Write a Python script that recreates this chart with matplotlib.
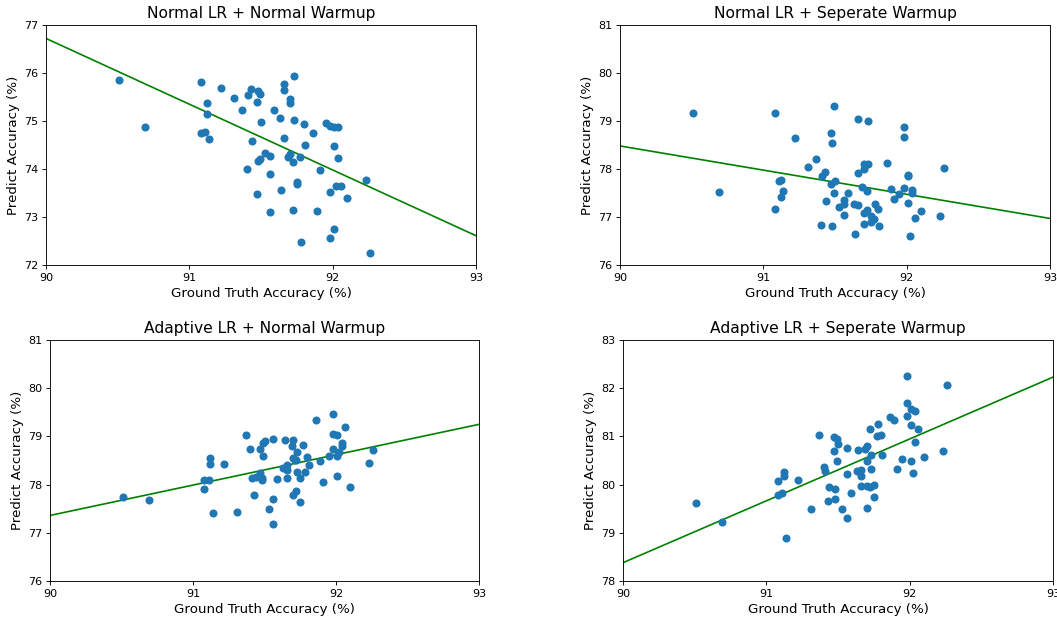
import matplotlib
matplotlib.use("Agg")
import matplotlib.pyplot as plt
import numpy as np

titles = ["Normal LR + Normal Warmup", "Normal LR + Seperate Warmup",
          "Adaptive LR + Normal Warmup", "Adaptive LR + Seperate Warmup"]

# Panel 1: Normal LR + Normal Warmup
p1_x = [90.51, 90.69, 91.08, 91.12, 91.12, 91.08, 91.11, 91.14, 91.22, 91.31, 91.37, 91.43,
        91.41, 91.48, 91.49, 91.47, 91.50, 91.44, 91.40, 91.53, 91.56, 91.48, 91.49, 91.56,
        91.47, 91.56, 91.59, 91.63, 91.66, 91.66, 91.70, 91.70, 91.73, 91.73, 91.66, 91.70,
        91.69, 91.72, 91.77, 91.75, 91.75, 91.64, 91.72, 91.78, 91.80, 91.81, 91.86, 91.89,
        91.91, 91.95, 91.98, 92.01, 92.04, 92.01, 92.04, 91.98, 92.02, 92.06, 92.10, 91.98,
        92.01, 92.23, 92.26]
p1_y = [75.85, 74.88, 75.81, 75.37, 75.14, 74.75, 74.77, 74.63, 75.69, 75.47, 75.22, 75.67,
        75.54, 75.62, 75.56, 75.40, 74.97, 74.59, 74.01, 74.33, 74.28, 74.17, 74.21, 73.90,
        73.48, 73.10, 75.22, 75.06, 75.77, 75.65, 75.45, 75.38, 75.93, 75.03, 74.64, 74.32,
        74.24, 74.14, 74.25, 73.73, 73.69, 73.56, 73.15, 72.47, 74.94, 74.49, 74.74, 73.12,
        73.97, 74.95, 74.90, 74.88, 74.87, 74.47, 74.22, 73.52, 73.64, 73.65, 73.39, 72.57,
        72.74, 73.78, 72.26]

# Panel 2: Normal LR + Seperate Warmup
p2_x = [90.51, 90.69, 91.08, 91.08, 91.11, 91.12, 91.12, 91.14, 91.22, 91.31, 91.37, 91.41,
        91.43, 91.40, 91.44, 91.47, 91.48, 91.49, 91.47, 91.50, 91.49, 91.48, 91.53, 91.56,
        91.56, 91.59, 91.56, 91.63, 91.66, 91.64, 91.66, 91.73, 91.66, 91.70, 91.73, 91.70,
        91.69, 91.72, 91.70, 91.72, 91.70, 91.75, 91.77, 91.75, 91.78, 91.80, 91.81, 91.86,
        91.89, 91.91, 91.95, 91.98, 91.98, 91.98, 92.01, 92.01, 92.01, 92.04, 92.04, 92.02,
        92.06, 92.10, 92.23, 92.26]
p2_y = [79.17, 77.53, 79.16, 77.16, 77.74, 77.77, 77.41, 77.54, 78.65, 78.05, 78.20, 77.85,
        77.93, 76.83, 77.34, 78.76, 78.54, 79.31, 77.69, 77.74, 77.49, 76.82, 77.21, 77.35,
        77.28, 77.49, 77.04, 77.28, 77.25, 76.65, 79.05, 78.99, 77.92, 78.10, 78.11, 78.00,
        77.63, 77.55, 77.09, 77.14, 76.86, 77.03, 76.95, 76.90, 77.27, 77.17, 76.81, 78.12,
        77.58, 77.37, 77.47, 78.88, 78.67, 77.60, 77.88, 77.86, 77.30, 77.56, 77.51, 76.60,
        76.97, 77.13, 77.03, 78.03]

# Panel 3: Adaptive LR + Normal Warmup
p3_x = [90.51, 90.69, 91.08, 91.08, 91.11, 91.12, 91.12, 91.14, 91.22, 91.31, 91.37, 91.40,
        91.41, 91.43, 91.44, 91.47, 91.47, 91.48, 91.48, 91.49, 91.50, 91.49, 91.53, 91.56,
        91.56, 91.56, 91.59, 91.64, 91.63, 91.66, 91.66, 91.66, 91.69, 91.70, 91.70, 91.71,
        91.72, 91.70, 91.72, 91.73, 91.73, 91.75, 91.75, 91.77, 91.78, 91.80, 91.81, 91.86,
        91.89, 91.91, 91.95, 91.98, 91.98, 91.98, 92.01, 92.01, 92.01, 92.02, 92.04, 92.04,
        92.06, 92.10, 92.23, 92.26]
p3_y = [77.75, 77.69, 78.09, 77.91, 78.10, 78.56, 78.43, 77.42, 78.42, 77.44, 79.02, 78.73,
        78.13, 77.78, 78.15, 78.73, 78.25, 78.13, 78.10, 78.87, 78.91, 78.60, 77.50, 78.94,
        77.71, 77.19, 78.11, 78.93, 78.35, 78.40, 78.30, 78.14, 78.80, 78.92, 78.55, 78.51,
        78.52, 77.78, 77.87, 78.67, 78.26, 78.13, 77.64, 78.82, 78.27, 78.57, 78.40, 79.34,
        78.50, 78.05, 78.59, 79.47, 79.04, 78.73, 79.02, 78.60, 78.18, 78.68, 78.87, 78.81,
        79.20, 77.95, 78.45, 78.71]

# Panel 4: Adaptive LR + Seperate Warmup
p4_x = [90.51, 90.69, 91.08, 91.08, 91.11, 91.12, 91.12, 91.14, 91.22, 91.31, 91.37, 91.40,
        91.41, 91.43, 91.44, 91.47, 91.49, 91.50, 91.47, 91.49, 91.48, 91.48, 91.53, 91.56,
        91.56, 91.56, 91.59, 91.64, 91.63, 91.66, 91.66, 91.66, 91.69, 91.70, 91.70, 91.70,
        91.70, 91.72, 91.73, 91.73, 91.72, 91.75, 91.75, 91.77, 91.78, 91.80, 91.81, 91.86,
        91.89, 91.91, 91.95, 91.98, 91.98, 91.98, 92.01, 92.01, 92.01, 92.02, 92.04, 92.04,
        92.06, 92.10, 92.23, 92.26]
p4_y = [79.61, 79.23, 80.08, 79.79, 79.82, 80.26, 80.17, 78.89, 80.09, 79.50, 81.02, 80.36,
        80.29, 79.66, 79.94, 80.99, 80.94, 80.85, 80.69, 80.49, 79.90, 79.71, 79.50, 80.76,
        80.22, 79.30, 79.82, 80.72, 80.29, 80.31, 80.17, 79.98, 80.74, 80.80, 80.50, 79.98,
        79.51, 81.16, 80.61, 80.33, 79.95, 79.99, 79.75, 81.00, 81.25, 81.02, 80.61, 81.41,
        81.35, 80.33, 80.54, 82.25, 81.69, 81.42, 81.57, 81.23, 80.49, 80.25, 81.52, 80.89,
        81.16, 80.58, 80.70, 82.07]

# Fitted line end values at x = 90 and x = 93
line_x = [90, 93]
p1_line = [76.72, 72.61]
p2_line = [78.48, 76.97]
p3_line = [77.36, 79.25]
p4_line = [78.38, 82.23]

ylims = [(72, 77), (76, 81), (76, 81), (78, 83)]
xs = [p1_x, p2_x, p3_x, p4_x]
ys = [p1_y, p2_y, p3_y, p4_y]
lines = [p1_line, p2_line, p3_line, p4_line]

k = 0.8  # overall scale of the reference rendering
plt.rcParams.update({
    "xtick.major.size": 3.5 * k, "ytick.major.size": 3.5 * k,
    "xtick.major.pad": 3.5 * k, "ytick.major.pad": 3.5 * k,
    "xtick.major.width": 0.8 * k, "ytick.major.width": 0.8 * k,
    "axes.linewidth": 0.8 * k,
    "axes.labelpad": 4.0 * k,
    "axes.titlepad": 6.0 * k,
})

W, H = 1057, 619
fig = plt.figure(figsize=(W / 100, H / 100), dpi=100)
boxes = [(46, 25, 476, 265), (620, 25, 1050, 265),
         (50, 340, 479, 581), (623, 340, 1053, 581)]

for i in range(4):
    l, t, r, b = boxes[i]
    ax = fig.add_axes([l / W, (H - b) / H, (r - l) / W, (b - t) / H])
    ax.scatter(xs[i], ys[i], s=36 * k * k, color="#1f77b4", zorder=3)
    ax.plot(line_x, lines[i], color="green", linewidth=1.5 * k)
    ax.set_xlim(90, 93)
    ax.set_ylim(*ylims[i])
    ax.set_xticks([90, 91, 92, 93])
    ax.set_yticks(np.arange(ylims[i][0], ylims[i][1] + 1, 1))
    ax.tick_params(labelsize=10 * k)
    ax.set_title(titles[i], fontsize=14 * k)
    ax.set_xlabel("Ground Truth Accuracy (%)", fontsize=12 * k)
    ax.set_ylabel("Predict Accuracy (%)", fontsize=12 * k)

fig.savefig("out.png", dpi=100)
